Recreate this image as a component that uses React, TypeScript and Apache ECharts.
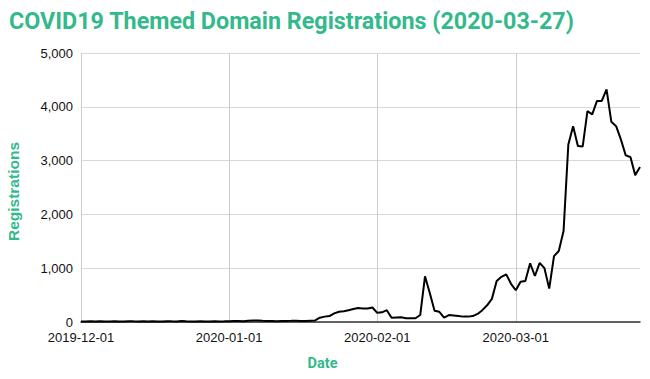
import React, { useEffect, useRef } from "react";
import * as echarts from "echarts";

const startDate = "2019-12-01";
const dayCount = 118;

// Daily registrations from 2019-12-01 to 2020-03-27
const registrations = [
  // Dec 2019 (31)
  10, 8, 12, 10, 15, 8, 10, 12, 10, 8, 15, 12, 10, 14, 10, 12, 8, 10, 15, 12,
  10, 18, 12, 10, 8, 12, 10, 8, 12, 10, 12,
  // Jan 2020 (31)
  15, 18, 20, 15, 25, 30, 28, 22, 18, 20, 15, 18, 20, 22, 25, 20, 18, 25, 30,
  80, 100, 110, 160, 190, 200, 220, 240, 260, 250, 250, 270,
  // Feb 2020 (29)
  170, 180, 220, 80, 85, 90, 70, 70, 70, 130, 850, 540, 210, 190, 80, 130, 120,
  110, 100, 100, 110, 150, 220, 310, 430, 760, 840, 885, 710,
  // Mar 2020 (27)
  590, 750, 760, 1090, 855, 1100, 1000, 620, 1225, 1320, 1690, 3300, 3640, 3270,
  3260, 3920, 3860, 4110, 4110, 4325, 3720, 3640, 3395, 3100, 3065, 2730, 2880,
];

const yTicks = [0, 1000, 2000, 3000, 4000, 5000];

function buildDates(): string[] {
  const out: string[] = [];
  const d0 = new Date(startDate + "T00:00:00Z");
  for (let i = 0; i < dayCount; i++) {
    const d = new Date(d0.getTime() + i * 86400000);
    out.push(d.toISOString().slice(0, 10));
  }
  return out;
}

const GREEN = "#33b98c";

export default function App() {
  const ref = useRef<HTMLDivElement>(null);
  useEffect(() => {
    if (!ref.current) return;
    const chart = echarts.init(ref.current, undefined, { renderer: "svg" });
    const dates = buildDates();
    const isMonthStart = (_i: number, v: string) => v.endsWith("-01");
    chart.setOption({
      animation: false,
      backgroundColor: "#ffffff",
      title: {
        text: "COVID19 Themed Domain Registrations (2020-03-27)",
        left: 4,
        top: 4,
        textStyle: {
          color: GREEN,
          fontFamily: "Roboto",
          fontWeight: "bold",
          fontSize: 23.3,
        },
      },
      grid: {
        left: 81,
        right: 10,
        top: 53,
        bottom: 57,
        containLabel: false,
        outerBoundsMode: "none",
      },
      xAxis: {
        type: "category",
        data: dates,
        boundaryGap: false,
        name: "Date",
        nameLocation: "middle",
        nameGap: 34,
        nameTextStyle: {
          color: GREEN,
          fontFamily: "Roboto",
          fontWeight: "bold",
          fontSize: 14.5,
          padding: [0, 76, 0, 0],
        },
        axisLine: { show: true, lineStyle: { color: "#333333", width: 1.5 } },
        axisTick: { show: false },
        axisLabel: {
          interval: isMonthStart,
          color: "#111111",
          fontFamily: "Liberation Sans, Arial",
          fontSize: 13,
          margin: 9,
        },
        splitLine: {
          show: true,
          interval: isMonthStart,
          lineStyle: { color: "#cccccc", width: 1 },
        },
      },
      yAxis: {
        type: "value",
        min: yTicks[0],
        max: yTicks[yTicks.length - 1],
        interval: 1000,
        name: "Registrations",
        nameLocation: "middle",
        nameGap: 60,
        nameTextStyle: {
          color: GREEN,
          fontFamily: "Liberation Sans, Arial",
          fontWeight: "bold",
          fontSize: 15.5,
          padding: [0, 8, 0, 0],
        },
        axisLine: { show: false },
        axisTick: { show: false },
        axisLabel: {
          color: "#111111",
          fontFamily: "Liberation Sans, Arial",
          fontSize: 13,
          margin: 8,
          formatter: (v: number) => v.toLocaleString("en-US"),
        },
        splitLine: { show: true, lineStyle: { color: "#d9d9d9", width: 1 } },
      },
      series: [
        {
          type: "line",
          data: registrations,
          showSymbol: false,
          symbol: "none",
          lineStyle: { color: "#000000", width: 2 },
          z: 3,
        },
      ],
    });
    return () => chart.dispose();
  }, []);
  return (
    <div
      ref={ref}
      style={{ width: 650, height: 379, position: "absolute", left: 0, top: 0 }}
    />
  );
}
